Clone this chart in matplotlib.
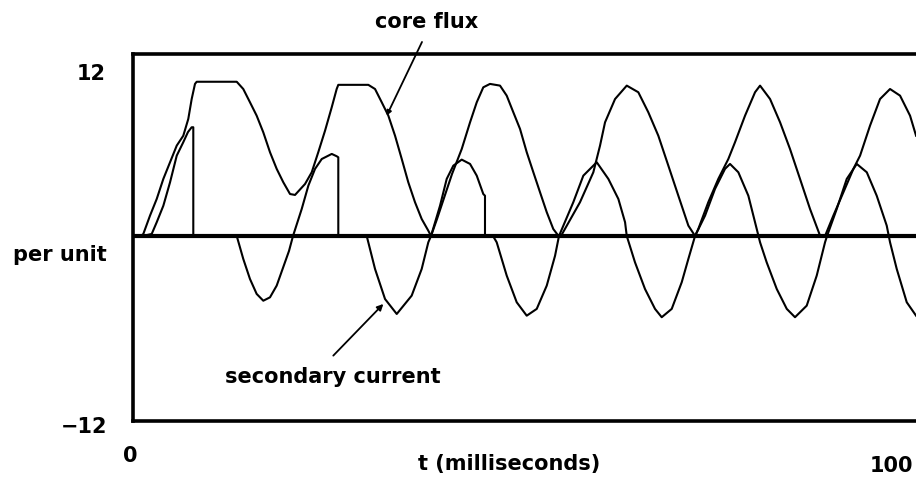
import matplotlib
matplotlib.use("Agg")
import matplotlib.pyplot as plt

# ---- data (t in ms, values in per unit) ----
flux_t = [1.04, 1.34, 2.21, 3.08, 3.94, 4.81, 5.68, 6.53, 7.18, 7.62, 8.05, 8.27,
          13.47, 14.32, 15.19, 16.06, 16.92, 17.79, 18.66, 19.52, 20.39, 21.04,
          22.34, 23.21, 24.06, 24.94, 25.81, 26.45, 26.66, 30.56, 31.43, 32.30,
          33.16, 34.03, 34.90, 35.75, 36.62, 37.49, 38.35, 38.70, 39.48, 40.52,
          41.43, 42.69, 43.77, 44.64, 45.49, 46.36, 47.66, 48.53, 49.39, 50.26,
          51.13, 51.99, 52.86, 53.73, 54.58, 55.23, 55.58, 58.05, 59.78, 60.65,
          61.30, 62.60, 64.12, 65.62, 66.92, 68.22, 69.52, 70.82, 72.12, 72.99,
          73.41, 74.71, 76.01, 77.31, 78.18, 79.48, 80.78, 81.43, 82.73, 84.03,
          85.32, 86.62, 87.92, 89.22, 89.87, 90.95, 92.25, 93.55, 94.42, 95.71,
          97.01, 98.31, 99.61, 100.91, 101.69]
flux_v = [0.0, 0.13, 1.32, 2.40, 3.70, 4.78, 5.86, 6.50, 7.59, 8.88, 9.86, 10.0,
          10.0, 9.53, 8.67, 7.80, 6.72, 5.43, 4.35, 3.48, 2.72, 2.66,
          3.37, 4.13, 5.43, 6.83, 8.35, 9.53, 9.80, 9.80, 9.53, 8.67,
          7.80, 6.50, 4.99, 3.48, 2.19, 1.10, 0.34, 0.0, 1.10, 2.66,
          4.02, 5.64, 7.37, 8.67, 9.64, 9.86, 9.75, 9.10, 8.02, 6.94,
          5.43, 4.13, 2.83, 1.54, 0.45, 0.02, 0.0, 2.19, 4.13, 5.86,
          7.37, 8.88, 9.75, 9.32, 8.02, 6.50, 4.56, 2.61, 0.67, 0.0,
          0.45, 2.19, 3.70, 4.99, 6.08, 7.80, 9.32, 9.75, 8.88, 7.37,
          5.64, 3.70, 1.75, 0.02, 0.0, 1.32, 2.83, 4.35, 5.21, 7.15,
          8.88, 9.53, 9.10, 7.80, 6.50]

cur_t = [1.30, 2.43, 3.08, 3.94, 4.81, 5.68, 6.53, 7.14, 7.62, 7.83, 7.83,
         13.47, 14.32, 15.19, 16.06, 16.92, 17.79, 18.66, 19.52, 20.26, 20.78,
         21.91, 22.77, 23.64, 24.51, 25.81, 26.45, 26.66, 26.66, 30.35, 31.43,
         32.73, 34.25, 36.19, 37.49, 38.35, 38.70, 39.87, 40.74, 41.60, 42.69,
         43.77, 44.64, 45.49, 45.71, 45.71, 46.75, 47.23, 48.53, 49.83, 51.13,
         52.43, 53.73, 54.81, 55.32, 57.18, 58.48, 60.22, 61.73, 63.03, 63.90,
         64.12, 65.19, 66.49, 67.79, 68.66, 69.96, 71.26, 72.12, 72.99, 74.29,
         75.58, 76.88, 77.53, 78.61, 79.91, 81.00, 81.43, 82.29, 83.60, 84.90,
         85.97, 87.49, 88.79, 89.87, 90.13, 91.39, 92.69, 93.99, 95.29, 96.58,
         97.88, 98.31, 99.18, 100.48, 101.69]
cur_v = [0.0, 0.13, 0.89, 1.96, 3.48, 5.21, 6.08, 6.74, 7.05, 7.05, 0.0,
         0.0, -1.49, -2.79, -3.76, -4.20, -3.98, -3.22, -2.01, -0.97, 0.0,
         1.75, 3.26, 4.35, 4.99, 5.32, 5.17, 5.10, 0.0, 0.0, -2.14,
         -4.09, -5.06, -3.87, -2.14, -0.41, 0.0, 1.96, 3.70, 4.56, 4.95,
         4.67, 3.91, 2.72, 2.61, 0.0, 0.0, -0.41, -2.57, -4.30, -5.17,
         -4.73, -3.22, -1.28, 0.0, 2.19, 3.91, 4.78, 3.70, 2.40, 0.89,
         0.0, -1.71, -3.44, -4.73, -5.27, -4.73, -3.00, -1.49, 0.0, 1.32,
         3.05, 4.35, 4.67, 4.13, 2.61, 0.45, -0.41, -1.71, -3.44, -4.73,
         -5.27, -4.52, -2.57, -0.41, 0.0, 1.75, 3.70, 4.67, 4.13, 2.61,
         0.67, -0.41, -2.14, -4.30, -5.17]

y_tick_labels = ["12", "\u221212"]
x_tick_labels = ["0", "100"]

W, H = 916, 481
fig = plt.figure(figsize=(W / 100, H / 100), dpi=100)
fig.patch.set_facecolor("white")


def fx(px):
    return px / W


def fy(py):
    return 1 - py / H


ax = fig.add_axes([fx(133), fy(422), fx(930) - fx(133), fy(55) - fy(422)])
ax.set_xlim(0, 103.5)
ax.set_ylim(-12, 11.8)
ax.set_xticks([])
ax.set_yticks([])
for s in ["left", "top", "bottom"]:
    ax.spines[s].set_linewidth(2.6)
    ax.spines[s].set_color("black")
ax.spines["right"].set_visible(False)

ax.axhline(0, color="black", lw=3.0, zorder=3)
ax.plot(flux_t, flux_v, color="black", lw=1.5, zorder=4,
        solid_joinstyle="round")
ax.plot(cur_t, cur_v, color="black", lw=1.5, zorder=4,
        solid_joinstyle="round")

font = dict(family="DejaVu Sans", fontweight="bold", fontsize=15, color="black")

fig.text(fx(106), fy(80), y_tick_labels[0], ha="right", va="baseline", **font)
fig.text(fx(107), fy(433), y_tick_labels[1], ha="right", va="baseline", **font)
fig.text(fx(130), fy(462), x_tick_labels[0], ha="center", va="baseline", **font)
fig.text(fx(913), fy(472), x_tick_labels[1], ha="right", va="baseline", **font)
fig.text(fx(60), fy(261), "per unit", ha="center", va="baseline", **font)
fig.text(fx(509), fy(470), "t (milliseconds)", ha="center", va="baseline", **font)

ax.annotate("", xy=(32.94, 7.80), xytext=(37.53, 12.58),
            arrowprops=dict(arrowstyle="-|>", color="black", lw=1.3,
                            mutation_scale=7, shrinkA=0, shrinkB=0),
            annotation_clip=False)
fig.text(fx(427), fy(28), "core flux", ha="center", va="baseline", **font)

ax.annotate("", xy=(32.51, -4.41), xytext=(26.01, -7.76),
            arrowprops=dict(arrowstyle="-|>", color="black", lw=1.3,
                            mutation_scale=9, shrinkA=0, shrinkB=0),
            annotation_clip=False)
fig.text(fx(333), fy(383), "secondary current", ha="center", va="baseline", **font)

fig.savefig("out.png", dpi=100, facecolor="white")
